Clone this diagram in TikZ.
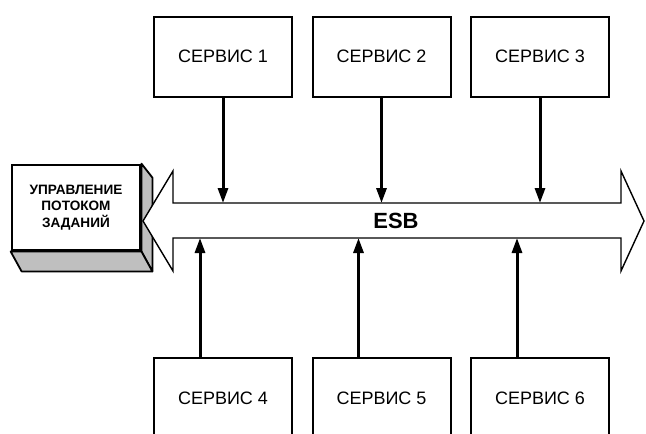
\documentclass[tikz,border=0pt]{standalone}
\usepackage{fontspec}
\setmainfont{Liberation Sans}
\usetikzlibrary{arrows.meta,calc,backgrounds}
\tikzset{
  >={Triangle[length=15pt,width=10pt]},
  svc/.style ={draw, line width=2pt, minimum width=138pt, minimum height=80pt, inner sep=0pt, font=\fontsize{18}{22}\selectfont},
  ctrl/.style={draw, line width=2.8pt, fill=white, minimum width=128pt, minimum height=85pt, inner sep=0pt, align=center, font=\bfseries\fontsize{13.6}{16.5}\selectfont},
  face/.style={draw, line width=1.8pt, fill=black!25, line join=round},
  bus/.style ={draw, line width=1.4pt, fill=white, line join=miter},
  conn/.style={->, line width=3pt},
  lbl/.style ={font=\bfseries\fontsize{22}{26}\selectfont},
}

\begin{document}
\begin{tikzpicture}[x=1pt,y=-1pt]
  \clip (0,0) rectangle (646,434);
  % ESB bus
  \coordinate (bustop) at (0,203);
  \coordinate (busbot) at (0,238);
  \draw[bus] (143,221) -- (173,171) -- (173,203) -- (621,203) -- (621,171) -- (644,221)
    -- (621,271) -- (621,238) -- (173,238) -- (173,271) -- cycle;
  \node[lbl] (esb) at (396,221) {ESB};
  % services
  \node[svc] (s1) at (223,56.5) {СЕРВИС 1};
  \node[svc] (s2) at (381.5,56.5) {СЕРВИС 2};
  \node[svc] (s3) at (540,56.5) {СЕРВИС 3};
  \node[svc] (s4) at (223,398) {СЕРВИС 4};
  \node[svc] (s5) at (381.5,398) {СЕРВИС 5};
  \node[svc] (s6) at (540,398) {СЕРВИС 6};
  % workflow control box
  \node[ctrl] (wfm) at (76,207.5) {УПРАВЛЕНИЕ\\ПОТОКОМ\\ЗАДАНИЙ};
  \begin{scope}[on background layer]
    \draw[face] (wfm.north east) -- ($(wfm.north east)+(11,14)$) -- ($(wfm.south east)+(11,20)$) -- (wfm.south east) -- cycle;
    \draw[face] (wfm.south west) -- ($(wfm.south west)+(11,20)$) -- ($(wfm.south east)+(11,20)$) -- (wfm.south east) -- cycle;
  \end{scope}
  % connectors
  \foreach \s in {s1,s2,s3}
    \draw[conn] (\s.south) -- (\s.south |- bustop);
  \foreach \s in {s4,s5,s6}
    \draw[conn] ([xshift=-23pt]\s.north) -- ([xshift=-23pt]\s.north |- busbot);
\end{tikzpicture}
\end{document}
